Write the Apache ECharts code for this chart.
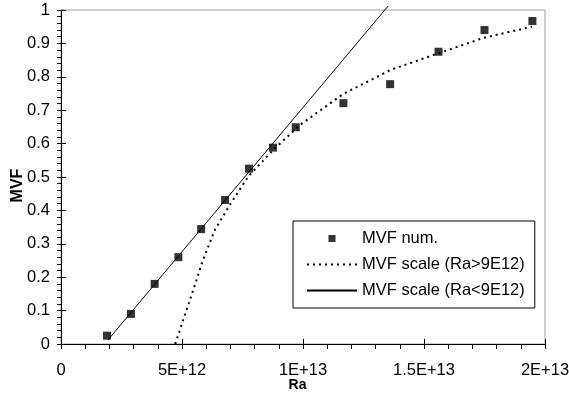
<!DOCTYPE html>
<html>
<head>
<meta charset="utf-8">
<script src="https://cdn.jsdelivr.net/npm/echarts@6/dist/echarts.min.js"></script>
<style>
  html, body { margin: 0; padding: 0; background: #fff; }
  #chart { width: 569px; height: 394px; }
</style>
</head>
<body>
<div id="chart"></div>
<script>
// numerical MVF (squares), Ra in units of 1E12
const raNum = [1.9, 2.89, 3.87, 4.85, 5.79, 6.78, 7.77, 8.76, 9.7, 11.67, 13.6, 15.6, 17.5, 19.48]
const mvfNum = [0.025, 0.09, 0.18, 0.26, 0.344, 0.431, 0.525, 0.588, 0.649, 0.721, 0.778, 0.875, 0.94, 0.967]
// scaling law for Ra > 9E12 (dotted)
const raHigh = [4.72, 4.92, 5.47, 5.85, 6.36, 6.98, 7.74, 8.77, 9.88, 11.65, 13.6, 15.58, 17.48, 19.46]
const mvfHigh = [0, 0.044, 0.163, 0.248, 0.342, 0.417, 0.502, 0.581, 0.656, 0.748, 0.82, 0.87, 0.917, 0.95]
// scaling law for Ra < 9E12 (solid)
const raLow = [1.94, 13.52]
const mvfLow = [0.012, 1.012]

const xTickLabels = ['0', '5E+12', '1E+13', '1.5E+13', '2E+13']
const seriesNames = ['MVF num.', 'MVF scale (Ra>9E12)', 'MVF scale (Ra<9E12)']

const toPts = (xs, ys) => xs.map((x, i) => [x * 1e12, ys[i]])

const font = 'Liberation Sans, Arial, sans-serif'
const chart = echarts.init(document.getElementById('chart'), null, { renderer: 'canvas' })

const baseX = {
  type: 'value',
  min: 0,
  max: 2e13,
  interval: 5e12,
  splitLine: { show: false },
}
const baseY = {
  type: 'value',
  min: 0,
  max: 1,
  interval: 0.1,
  splitLine: { show: false },
}
// hide the dot ECharts puts in the middle of line legend icons
const noSymbol = { opacity: 0, borderWidth: 0 }

chart.setOption({
  backgroundColor: '#fff',
  animation: false,
  grid: {
    left: 61,
    right: 24,
    top: 10,
    bottom: 50,
    outerBoundsMode: 'none',
    containLabel: false,
    show: true,
    borderColor: '#a0a0a0',
    borderWidth: 1,
    backgroundColor: 'transparent',
  },
  legend: {
    orient: 'vertical',
    left: 293,
    top: 221,
    padding: [9, 10, 9, 13],
    itemGap: 9,
    itemWidth: 50,
    itemHeight: 7,
    borderColor: '#000',
    borderWidth: 1,
    backgroundColor: '#fff',
    textStyle: { fontFamily: font, fontSize: 16.5, color: '#000', lineHeight: 16 },
    data: [
      { name: seriesNames[0], icon: 'path://M0,0H10V10H0Z' },
      { name: seriesNames[1], itemStyle: noSymbol },
      { name: seriesNames[2], itemStyle: noSymbol },
    ],
  },
  xAxis: [
    {
      ...baseX,
      name: 'Ra',
      nameLocation: 'middle',
      nameGap: 34,
      nameMoveOverlap: false,
      nameTextStyle: { fontFamily: font, fontSize: 14, fontWeight: 'bold', color: '#000', padding: [0, 11, 0, 0] },
      axisLine: { show: true, lineStyle: { color: '#000', width: 1 } },
      axisTick: { show: true, inside: false, length: 5, lineStyle: { color: '#000' } },
      minorTick: { show: true, splitNumber: 5, length: 5, lineStyle: { color: '#000' } },
      axisLabel: {
        margin: 18,
        fontFamily: font,
        fontSize: 16.5,
        color: '#000',
        formatter: (v) => xTickLabels[Math.round(v / 5e12)],
      },
    },
    {
      ...baseX,
      position: 'bottom',
      axisLine: { show: false },
      axisTick: { show: true, inside: true, length: 5, lineStyle: { color: '#000' } },
      axisLabel: { show: false },
    },
  ],
  yAxis: [
    {
      ...baseY,
      name: 'MVF',
      nameLocation: 'middle',
      nameGap: 35,
      nameMoveOverlap: false,
      nameTextStyle: { fontFamily: font, fontSize: 16, fontWeight: 'bold', color: '#000', padding: [0, 17, 0, 0] },
      axisLine: { show: true, lineStyle: { color: '#000', width: 1 } },
      axisTick: { show: true, inside: false, length: 4, lineStyle: { color: '#000' } },
      minorTick: { show: true, splitNumber: 5, length: 4, lineStyle: { color: '#000' } },
      axisLabel: { margin: 11, fontFamily: font, fontSize: 16.5, color: '#000' },
    },
    {
      ...baseY,
      position: 'left',
      axisLine: { show: false },
      axisTick: { show: true, inside: true, length: 5, lineStyle: { color: '#000' } },
      axisLabel: { show: false },
    },
  ],
  series: [
    {
      name: seriesNames[1],
      type: 'line',
      data: toPts(raHigh, mvfHigh),
      showSymbol: false,
      symbol: 'none',
      color: '#000',
      lineStyle: { color: '#000', width: 2, type: [2, 4] },
      z: 2,
    },
    {
      name: seriesNames[2],
      type: 'line',
      data: toPts(raLow, mvfLow),
      showSymbol: false,
      symbol: 'none',
      clip: false,
      color: '#000',
      lineStyle: { color: '#000', width: 1, type: 'solid' },
      z: 2,
    },
    {
      name: seriesNames[0],
      type: 'scatter',
      data: toPts(raNum, mvfNum),
      symbol: 'rect',
      symbolSize: 8,
      itemStyle: { color: '#000' },
      z: 3,
    },
  ],
})
</script>
</body>
</html>
